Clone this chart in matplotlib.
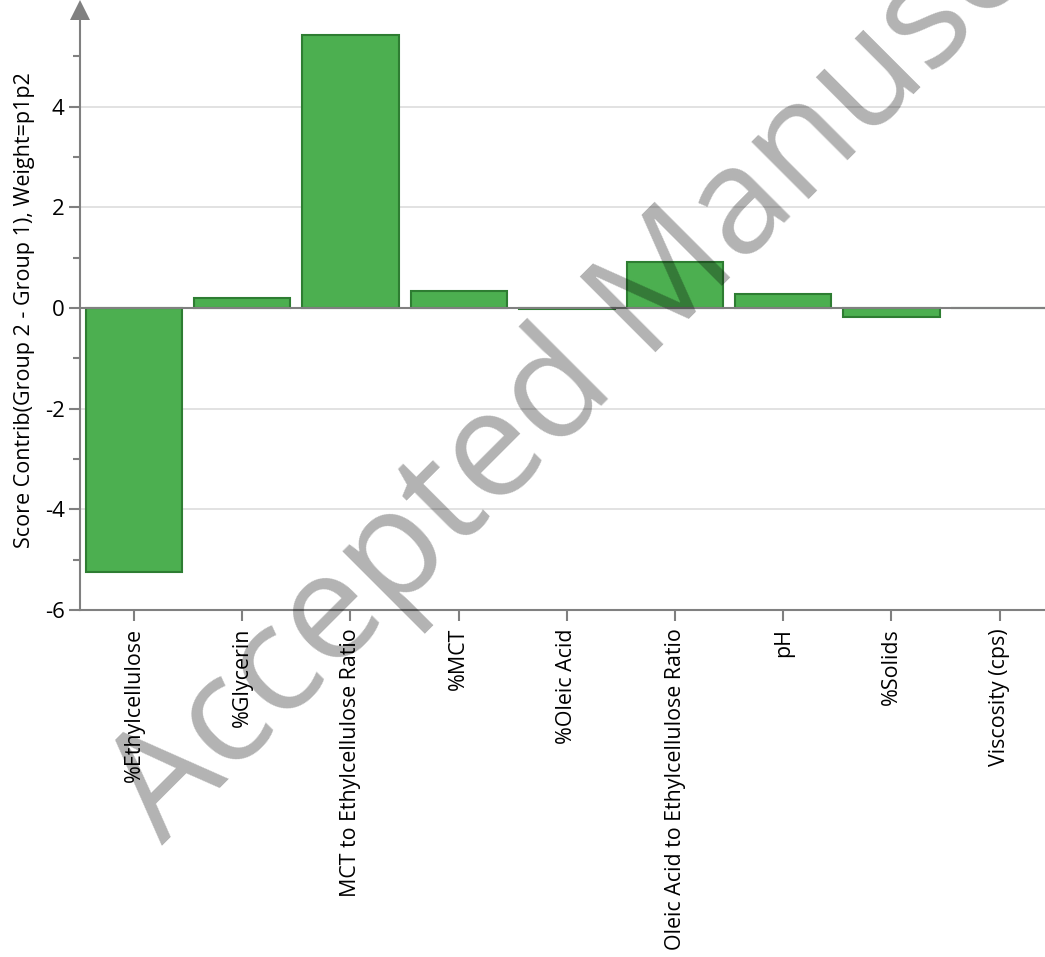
import matplotlib
matplotlib.use("Agg")
import matplotlib.pyplot as plt
import numpy as np

categories = ["%Ethylcellulose", "%Glycerin", "MCT to Ethylcellulose Ratio", "%MCT",
              "%Oleic Acid", "Oleic Acid to Ethylcellulose Ratio", "pH", "%Solids",
              "Viscosity (cps)"]
values = [-5.25, 0.20, 5.42, 0.34, -0.03, 0.92, 0.28, -0.17, 0.0]
ylabel = "Score Contrib(Group 2 - Group 1), Weight=p1p2"
watermark = "Accepted Manuscript"

plt.rcParams['font.family'] = ['Open Sans', 'DejaVu Sans']

W, H = 1045, 957
fig = plt.figure(figsize=(W / 100, H / 100), dpi=100)
ax = fig.add_axes([80 / W, 1 - 610 / H, (W - 80) / W, 600 / H])

x = np.arange(len(categories))
ax.bar(x, values, width=0.89, color="#4caf50", edgecolor="#2e7d32", linewidth=1.5, zorder=3)

ax.set_xlim(-0.5, 8.42)
ax.set_ylim(-6, 5.92)
ax.set_yticks([-6, -4, -2, 0, 2, 4])
ax.set_yticklabels(["-6", "-4", "-2", "0", "2", "4"])
ax.set_yticks([-5, -3, -1, 1, 3, 5], minor=True)
ax.yaxis.grid(True, which="major", color="#dddddd", linewidth=1.2, zorder=0)
ax.axhline(0, color="#808080", linewidth=1.5, zorder=4)

ax.set_xticks(x)
ax.set_xticklabels(categories, rotation=90, fontsize=15.4, va="top")
ax.tick_params(axis="x", length=8, width=1.5, color="#808080", pad=5)
ax.tick_params(axis="y", which="major", length=8, width=1.5, color="#808080", labelsize=16, pad=3)
ax.tick_params(axis="y", which="minor", length=5, width=1.5, color="#808080")

for s in ["top", "right"]:
    ax.spines[s].set_visible(False)
for s in ["left", "bottom"]:
    ax.spines[s].set_color("#808080")
    ax.spines[s].set_linewidth(1.5)

ax.set_ylabel(ylabel, fontsize=15.5, labelpad=7)

# arrow head on y axis
ax.plot([0], [1.0], marker="^", markersize=14, color="#808080", transform=ax.transAxes,
        clip_on=False, zorder=5, markeredgewidth=0)

fig.text(163 / W, 1 - 846 / H, watermark, fontsize=108,
         color="black", alpha=0.3,
         rotation=45, rotation_mode="anchor", ha="left", va="baseline", zorder=10)

fig.savefig("out.png", dpi=100, facecolor="white")
